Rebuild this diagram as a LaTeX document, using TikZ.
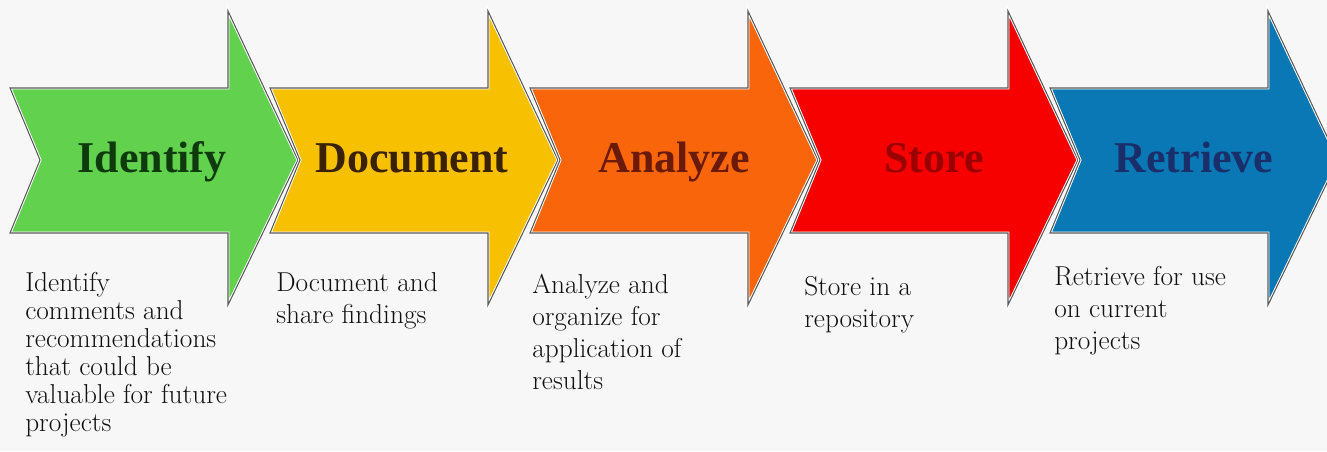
\documentclass[tikz,border=0pt]{standalone}
\usepackage{fontspec}
\newfontfamily\timesf{Liberation Serif}[Ligatures=TeX]
\definecolor{bg}{HTML}{F7F7F7}
\definecolor{cgreen}{HTML}{62D24E}
\definecolor{cyellow}{HTML}{F7C000}
\definecolor{corange}{HTML}{F9650B}
\definecolor{cred}{HTML}{F60000}
\definecolor{cblue}{HTML}{0A78B4}
\definecolor{tgreen}{HTML}{0E3A0E}
\definecolor{tyellow}{HTML}{3A2200}
\definecolor{torange}{HTML}{6A1A08}
\definecolor{tred}{HTML}{9A0000}
\definecolor{tblue}{HTML}{1A2E6A}
\definecolor{desc}{HTML}{111111}
\tikzset{
  arrowwhite/.style={draw=white, line width=2.2pt, line join=miter},
  arrowline/.style={draw=black!65, line width=0.8pt, line join=miter},
  title/.style={font=\timesf\fontsize{33}{36}\selectfont\bfseries, anchor=base, inner sep=0pt},
  desctext/.style={font=\rmfamily\fontsize{20.5}{24}\selectfont, text=desc, align=left, anchor=north west, inner sep=0pt},
}
\begin{document}
\begin{tikzpicture}[x=0.75pt, y=-0.75pt]
\clip (0,0) rectangle (1327,451);
\fill[bg] (0,0) rectangle (1327,451);
\foreach \i/\c in {0/cgreen,1/cyellow,2/corange,3/cred,4/cblue}{
  \begin{scope}[shift={(10+260*\i,0)}]
    \path[fill=\c, arrowwhite] (0,88) -- (218,88) -- (218,11) -- (288,160) -- (218,305) -- (218,233) -- (0,233) -- (30,160) -- cycle;
    \path[arrowline] (0,88) -- (218,88) -- (218,11) -- (288,160) -- (218,305) -- (218,233) -- (0,233) -- (30,160) -- cycle;
  \end{scope}
}
\node[title, text=tgreen] (t1) at (152,172) {Identify};
\node[title, text=tyellow] (t2) at (412,172) {Document};
\node[title, text=torange] (t3) at (674,172) {Analyze};
\node[title, text=tred] (t4) at (934,172) {Store};
\node[title, text=tblue] (t5) at (1194,172) {Retrieve};

\node[desctext, font=\rmfamily\fontsize{20.5}{21}\selectfont] (d1) at (25,272) {Identify\\comments and\\recommendations\\that could be\\valuable for future\\projects};
\node[desctext] (d2) at (276,272) {Document and\\share findings};
\node[desctext] (d3) at (532,274) {Analyze and\\organize for\\application of\\results};
\node[desctext] (d4) at (804,276) {Store in a\\repository};
\node[desctext] (d5) at (1054,266) {Retrieve for use\\on current\\projects};
\end{tikzpicture}
\end{document}
